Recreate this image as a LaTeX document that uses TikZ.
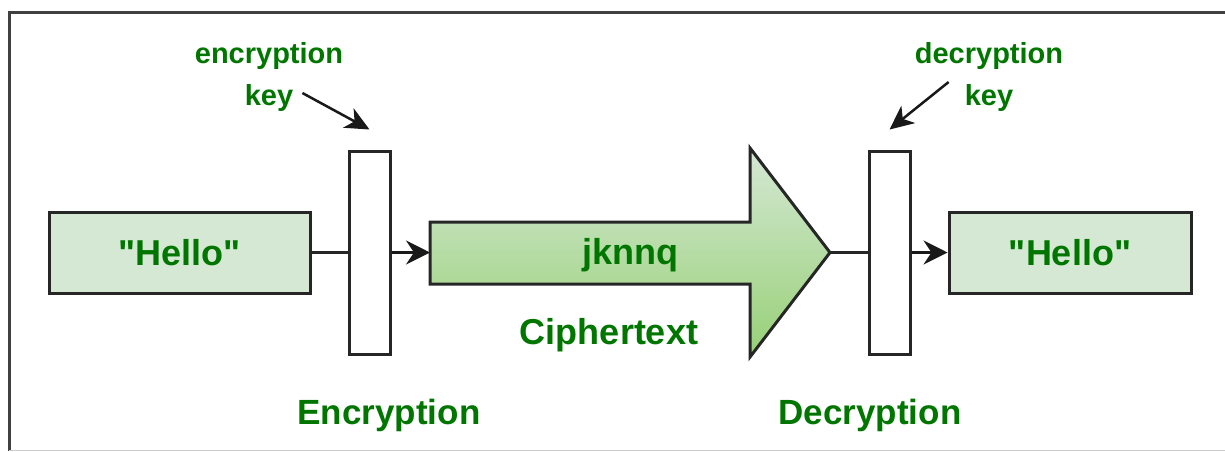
\documentclass[tikz,border=0pt]{standalone}
\usepackage{fontspec}
\setmainfont{Liberation Sans}[Ligatures=TeXOff]
\usepackage{xcolor}
\usetikzlibrary{arrows.meta}
\definecolor{textgreen}{RGB}{0,118,0}
\definecolor{boxfill}{HTML}{D5E8D4}
\definecolor{shadetop}{HTML}{D5E8D4}
\definecolor{shadebot}{HTML}{97D077}
\tikzstyle{msg} = [rectangle, minimum width=261pt, minimum height=81pt, inner sep=0pt, draw=black!85, line width=3pt, fill=boxfill, text=textgreen, font=\fontsize{36}{40}\selectfont\bfseries]
\tikzstyle{keybar} = [rectangle, minimum width=41pt, minimum height=203pt, inner sep=0pt, draw=black!85, line width=3pt, fill=white]
\tikzstyle{bigtext} = [inner sep=0pt, text=textgreen, font=\fontsize{36}{40}\selectfont\bfseries]
\tikzstyle{smalltext} = [inner sep=0pt, text=textgreen, font=\fontsize{29}{34}\selectfont\bfseries]
\tikzstyle{arrow} = [line width=2.5pt, black!90, -{Stealth[length=24pt,width=24pt,inset=8pt]}]
\tikzstyle{keyarrow} = [line width=2.5pt, black!90, -{Stealth[length=24pt,width=22pt,inset=7pt]}]
\tikzstyle{line} = [draw, line width=2.5pt, black!85]

\begin{document}
\begin{tikzpicture}[x=1pt, y=-1pt]
   \useasboundingbox (0,0) rectangle (1225,451);
   % frame
   \draw[line width=3pt, black!75] (9,451) -- (9,12) -- (1225,12);
   \draw[line width=1pt, black!20] (9,450) -- (1225,450);

   \node (hello1) [msg] at (179.5,252.5) {"Hello"};
   \node (encbar) [keybar] at (369.5,252.5) {};
   \node (decbar) [keybar] at (889.5,252.5) {};
   \node (hello2) [msg, minimum width=242pt] at (1070,252.5) {"Hello"};

   % ciphertext arrow
   \filldraw[draw=black!85, line width=3pt, top color=shadetop, bottom color=shadebot]
      (430,222) -- (750,222) -- (750,148) -- (830,252.5) -- (750,357) -- (750,284) -- (430,284) -- cycle;
   \coordinate (tail) at (430,252.5);
   \coordinate (tip) at (830,252.5);
   \node (cipher) [bigtext] at (630,255) {jknnq};
   \node (ctlabel) [bigtext] at (609,335) {Ciphertext};

   \node (enclbl) [smalltext] at (269,56) {encryption};
   \node (enckey) [smalltext] at (269,98) {key};
   \node (declbl) [smalltext] at (989,56) {decryption};
   \node (deckey) [smalltext] at (989,98) {key};

   \node (encname) [bigtext, font=\fontsize{35}{40}\selectfont\bfseries] at (389,415) {Encryption};
   \node (decname) [bigtext, font=\fontsize{35}{40}\selectfont\bfseries] at (870,415) {Decryption};

   \path [line] (hello1) -- (encbar);
   \draw [arrow] (encbar) -- (tail);
   \path [line] (tip) -- (decbar);
   \draw [arrow] (decbar) -- (hello2);
   \draw [keyarrow] ([shift={(9pt,5pt)}]enckey.east) -- ([yshift=20pt]encbar.north);
   \draw [keyarrow] ([shift={(-16pt,16pt)}]deckey.west) -- ([yshift=20pt]decbar.north);
\end{tikzpicture}
\end{document}
